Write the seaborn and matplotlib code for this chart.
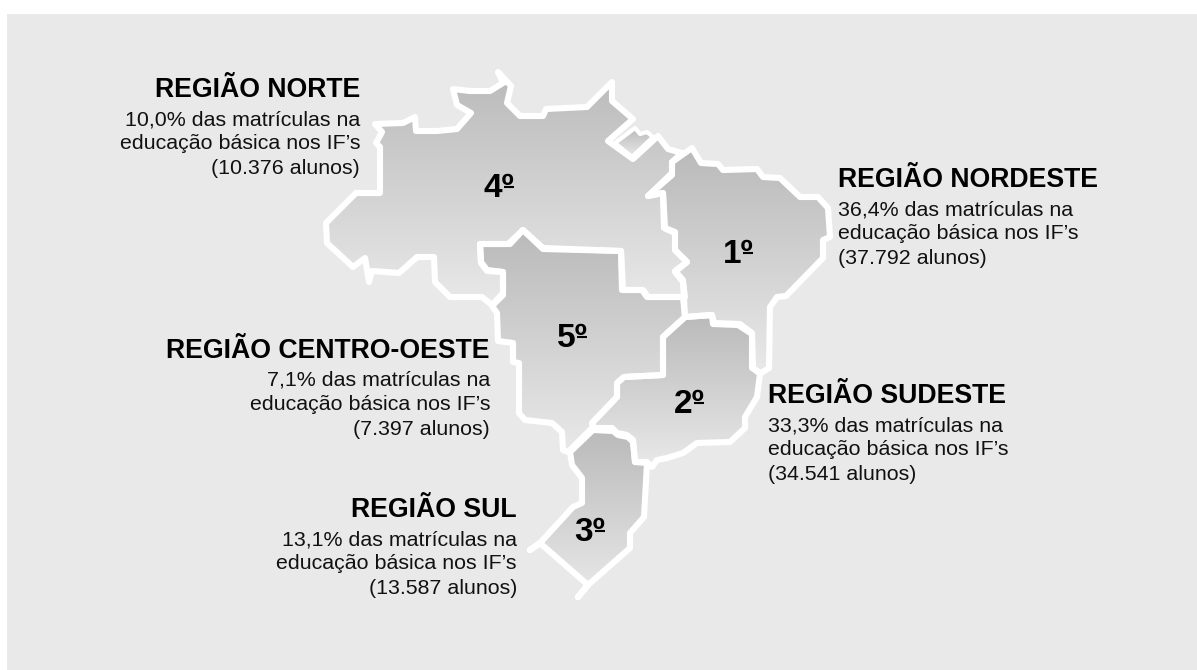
import numpy as np
import matplotlib
matplotlib.use("Agg")
import matplotlib.pyplot as plt
from matplotlib.patches import Polygon, Rectangle
import seaborn as sns

regioes = ["REGIÃO NORTE", "REGIÃO NORDESTE", "REGIÃO CENTRO-OESTE", "REGIÃO SUDESTE", "REGIÃO SUL"]
percentuais = ["10,0%", "36,4%", "7,1%", "33,3%", "13,1%"]
alunos = ["10.376", "37.792", "7.397", "34.541", "13.587"]
ranking = ["4º", "1º", "5º", "2º", "3º"]

norte = [(375,124),(403,123),(415,117),(416,131),(437,131),(457,129),(471,113),(457,105),(453,89),(470,91),(490,91),
         (503,83),(498,72),(511,86),(507,103),(520,116),(543,116),(546,109),(587,107),(612,82),(612,101),(633,119),
         (608,141),(633,159),(658,136),(668,149),(682,153),(672,162),(672,175),(648,196),(663,193),(665,228),(675,232),
         (675,250),(687,262),(675,272),(683,282),(685,297),(647,297),(642,290),(622,290),(621,251),(543,248),(523,230),
         (508,244),(480,244),(481,263),(487,271),(503,272),(503,293),(492,305),(482,297),(450,297),(435,282),(434,257),
         (417,257),(399,273),(372,271),(369,282),(365,258),(353,267),(327,243),(326,223),(356,193),(380,193),(380,147),
         (376,143),(382,132)]
amapa = [(635,128),(640,134),(647,132),(653,137),(632,157),(615,143)]
nordeste = [(672,162),(692,148),(701,163),(718,164),(723,170),(757,169),(763,177),(780,178),(800,197),(818,197),(828,208),
            (830,237),(823,240),(823,258),(786,296),(777,297),(770,307),(769,368),(761,373),(752,368),(752,333),(740,324),
            (714,323),(712,315),(685,317),(683,280),(675,271),(687,262),(675,250),(675,233),(664,228),(663,193),(648,196),(672,173)]
centro_oeste = [(480,244),(510,244),(523,230),(543,249),(621,251),(623,290),(643,290),(648,297),(683,297),(685,317),(663,337),
                (663,375),(624,377),(617,383),(617,397),(593,422),(593,427),(568,452),(563,450),(562,432),(552,423),(525,420),
                (519,413),(519,363),(513,362),(513,343),(498,341),(497,313),(492,306),(503,295),(503,272),(487,270),(481,262)]
sudeste = [(685,317),(712,315),(713,324),(738,325),(752,334),(753,368),(760,374),(757,397),(745,417),(745,428),(730,442),
           (697,443),(683,453),(667,458),(657,460),(652,467),(647,462),(635,462),(633,440),(627,435),(617,433),(612,428),
           (593,428),(592,423),(617,397),(617,383),(624,377),(663,375),(663,337)]
sul = [(593,430),(613,431),(618,435),(628,437),(633,442),(635,462),(647,463),(644,517),(630,533),(630,548),(588,585),
       (578,597),(588,585),(540,543),(530,550),(540,543),(573,507),(582,503),(582,478),(572,465),(570,452)]

sns.set_theme(style="white")
plt.rcParams["font.family"] = ["Liberation Sans", "DejaVu Sans"]

fig = plt.figure(figsize=(11.97, 6.70), dpi=100, facecolor="white")
ax = fig.add_axes([0, 0, 1, 1])
ax.set_axis_off()
ax.add_patch(Rectangle((7, 14), 1190, 656, fc="#e9e9e9", ec="none", zorder=0))

cmap = sns.blend_palette(["#bababa", "#e9e9e9"], as_cmap=True)
ramp = np.linspace(0, 1, 256)[:, None]
white = 4.4

for z, pts in enumerate([norte, amapa, nordeste, centro_oeste, sudeste, sul]):
    arr = np.array(pts)
    x0, y0 = arr.min(axis=0)
    x1, y1 = arr.max(axis=0)
    im = ax.imshow(ramp, cmap=cmap, vmin=0, vmax=1, aspect="auto",
                   extent=[x0, x1, y1, y0], zorder=1 + z, interpolation="bilinear")
    clip = Polygon(arr, closed=True, transform=ax.transData, fc="none", ec="none")
    ax.add_patch(clip)
    im.set_clip_path(clip)
for pts, lw in [(norte, white), (amapa, 3.0), (nordeste, white), (centro_oeste, white), (sudeste, white), (sul, white)]:
    ax.add_patch(Polygon(np.array(pts), closed=True, fc="none", ec="white", lw=lw, joinstyle="round", zorder=10))

ax.set_xlim(0, 1197)
ax.set_ylim(670, 0)

title_fs = 19.2
body_fs = 15.4
blocks = [
    (360, "right", 97, 0),
    (838, "left", 187, 1),
    (490, "right", 358, 2),
    (768, "left", 403, 3),
    (517, "right", 517, 4),
]
for x, ha, base, i in blocks:
    ax.text(x, base, regioes[i], ha=ha, va="baseline", fontsize=title_fs, fontweight="bold", color="black", zorder=20)
    lines = [f"{percentuais[i]} das matrículas na", "educação básica nos IF’s", f"({alunos[i]} alunos)"]
    for dy, s in zip([28, 52, 77], lines):
        ax.text(x, base + dy, s, ha=ha, va="baseline", fontsize=body_fs, color="#111111", zorder=20)

rank_pos = [(499, 197), (738, 263), (572, 347), (689, 413), (590, 541)]
for (x, y), r in zip(rank_pos, ranking):
    ax.text(x, y, r, ha="center", va="baseline", fontsize=24, fontweight="bold", color="black", zorder=20)
    ax.plot([x + 5, x + 15], [y - 10, y - 10], color="black", lw=1.5, solid_capstyle="butt", zorder=20)

fig.savefig("out.png", dpi=100)
